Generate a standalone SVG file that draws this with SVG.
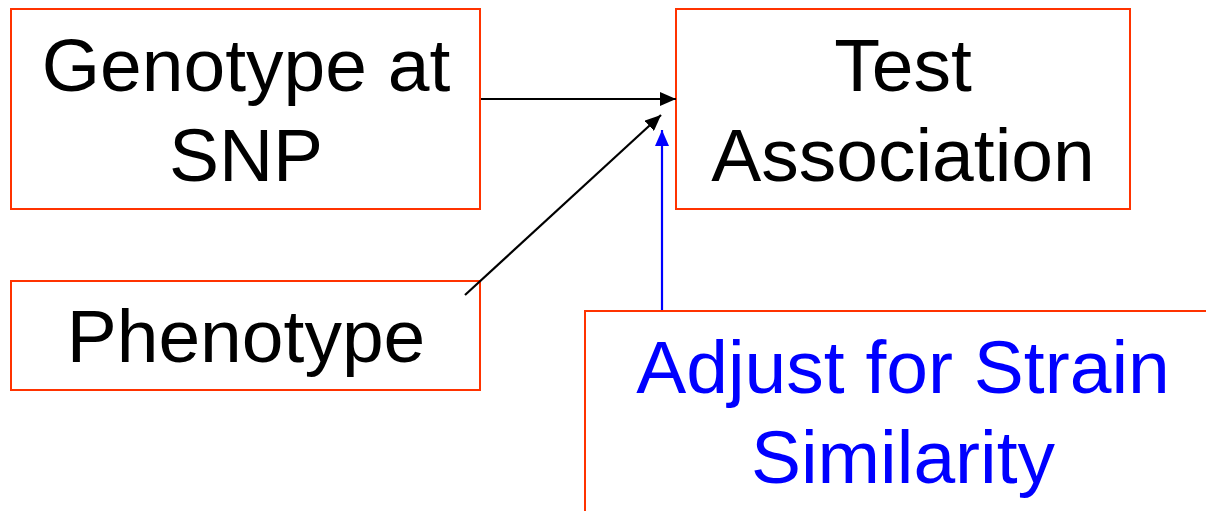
<svg xmlns="http://www.w3.org/2000/svg" width="1206" height="511" viewBox="0 0 1206 511">
<defs>
<style>
.box{fill:#fff;stroke:#ff3300;stroke-width:2}
.t{font-family:"Liberation Sans",Arial,sans-serif;font-size:75px;text-anchor:middle;fill:#000}
.blue{fill:#0000ff}
.c{stroke:#000;stroke-width:2.2;fill:none}
.cb{stroke:#0000ff;stroke-width:2.2;fill:none}
</style>
<marker id="ah" markerWidth="16" markerHeight="14" refX="16" refY="7" orient="auto" markerUnits="userSpaceOnUse"><path d="M0,0 L16,7 L0,14 Z" fill="#000"/></marker>
<marker id="ahb" markerWidth="16" markerHeight="14" refX="16" refY="7" orient="auto" markerUnits="userSpaceOnUse"><path d="M0,0 L16,7 L0,14 Z" fill="#0000ff"/></marker>
</defs>
<rect width="1206" height="511" fill="#fff"/>
<g id="genotype">
<rect class="box" x="11" y="9" width="469" height="200"/>
<text class="t" x="246" y="91">Genotype at</text>
<text class="t" x="246" y="181">SNP</text>
</g>
<g id="test">
<rect class="box" x="676" y="9" width="454" height="200"/>
<text class="t" x="903" y="91">Test</text>
<text class="t" x="903" y="181">Association</text>
</g>
<g id="phenotype">
<rect class="box" x="11" y="281" width="469" height="109"/>
<text class="t" x="246" y="362">Phenotype</text>
</g>
<g id="adjust">
<rect class="box" x="585" y="311" width="640" height="220"/>
<text class="t blue" x="903" y="393">Adjust for Strain</text>
<text class="t blue" x="903" y="483">Similarity</text>
</g>
<g id="connectors">
<line class="c" x1="481" y1="99" x2="676" y2="99" marker-end="url(#ah)"/>
<line class="c" x1="465" y1="295" x2="661" y2="115" marker-end="url(#ah)"/>
<line class="cb" x1="662" y1="310" x2="662" y2="130" marker-end="url(#ahb)"/>
</g>
</svg>
